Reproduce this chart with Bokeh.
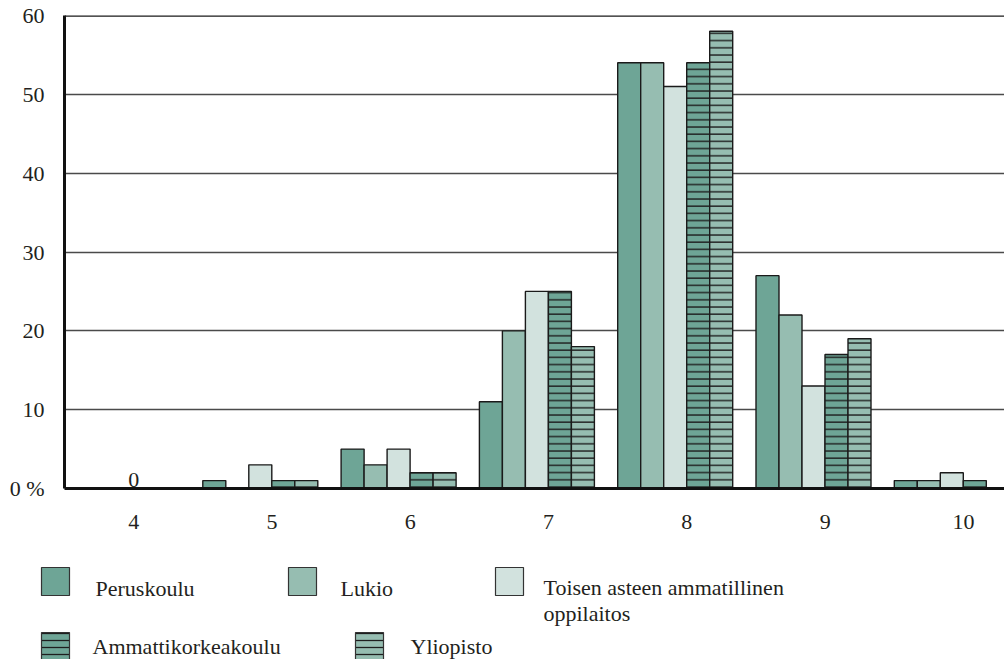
from bokeh.plotting import figure
from bokeh.models import Range1d, FixedTicker, Span, ColumnDataSource, Column
from bokeh.embed import file_html
from bokeh.resources import INLINE
from bokeh.core.properties import value

grades = ["4", "5", "6", "7", "8", "9", "10"]
series = ["Peruskoulu", "Lukio", "Toisen asteen ammatillinen oppilaitos",
          "Ammattikorkeakoulu", "Yliopisto"]
peruskoulu = [0, 1, 5, 11, 54, 27, 1]
lukio = [0, 0, 3, 20, 54, 22, 1]
toisen_aste = [0, 3, 5, 25, 51, 13, 2]
amk = [0, 1, 2, 25, 54, 17, 1]
yliopisto = [0, 1, 2, 18, 58, 19, 0]
yticks = [0, 10, 20, 30, 40, 50, 60]

values = [peruskoulu, lukio, toisen_aste, amk, yliopisto]
colors = ["#6ea596", "#96bdb1", "#d2e2de", "#6ea596", "#96bdb1"]
hatches = [None, None, None, "horizontal_line", "horizontal_line"]

FONT = "Liberation Serif"
TXT = "#231f20"

W = 1004
CH = 545
LH = 659 - CH
LEFT = 64

slot_px = 138.3
frame_w = W - LEFT
xmax = frame_w / slot_px
bw = 23.0 / slot_px

p = figure(width=W, height=CH, output_backend="svg", toolbar_location=None,
           x_range=Range1d(0, xmax), y_range=Range1d(0, 60),
           min_border_left=LEFT, min_border_right=0, min_border_top=15,
           min_border_bottom=57)
p.outline_line_color = None
p.background_fill_color = "white"

p.xgrid.visible = False
p.ygrid.ticker = FixedTicker(ticks=[10, 20, 30, 40, 50])
p.ygrid.grid_line_color = "#4a4a4a"
p.ygrid.grid_line_width = 1.3

p.add_layout(Span(location=60, dimension="width", line_color="#1a1a1a", line_width=2.5))

for j, (vals, col, h) in enumerate(zip(values, colors, hatches)):
    xs = [i + (j + 0.5) * bw for i in range(len(grades))]
    src = ColumnDataSource(dict(x=xs, top=vals))
    kw = {}
    if h:
        kw = dict(hatch_pattern=h, hatch_color="#1e1e1e", hatch_weight=1.4, hatch_scale=7.2)
    p.vbar(x="x", top="top", bottom=0, width=bw, source=src, fill_color=col,
           line_color="#1a1a1a", line_width=1.4, **kw)

# zero label for grade 4
p.text(x=[0.5], y=[0], text=["0"], text_font=value(FONT), text_font_size="22px",
       text_color=TXT, text_align="center", text_baseline="bottom", y_offset=-2)

p.xaxis.ticker = FixedTicker(ticks=[i + 0.5 for i in range(len(grades))])
p.xaxis.major_label_overrides = {i + 0.5: g for i, g in enumerate(grades)}
p.yaxis.ticker = FixedTicker(ticks=yticks)
p.yaxis.major_label_overrides = {0: "0 %"}
for ax in (p.xaxis[0], p.yaxis[0]):
    ax.axis_line_color = "#111111"
    ax.axis_line_width = 3
    ax.major_tick_line_color = None
    ax.minor_tick_line_color = None
    ax.major_label_text_font = FONT
    ax.major_label_text_font_size = "22px"
    ax.major_label_text_color = TXT
p.yaxis.major_label_standoff = 14
p.xaxis.major_label_standoff = 20

# legend figure (page-pixel coordinates)
lg = figure(width=W, height=LH, output_backend="svg", toolbar_location=None,
            x_range=Range1d(0, W), y_range=Range1d(CH + LH, CH),
            min_border=0)
lg.axis.visible = False
lg.grid.visible = False
lg.outline_line_color = None

sq_left = [41, 288, 495, 41, 355]
sq_top = [567, 567, 567, 632, 632]
txt_x = [95, 340, 543, 92, 410]
txt_y = [588, 588, 587, 646, 646]
for k in range(5):
    kw = {}
    if hatches[k]:
        kw = dict(hatch_pattern=hatches[k], hatch_color="#1e1e1e", hatch_weight=1.3, hatch_scale=7.0)
    lg.quad(left=[sq_left[k]], right=[sq_left[k] + 28], top=[sq_top[k]], bottom=[sq_top[k] + 28],
            fill_color=colors[k], line_color="#333333", line_width=1.2, **kw)
labels = ["Peruskoulu", "Lukio", "Toisen asteen ammatillinen", "Ammattikorkeakoulu", "Yliopisto"]
lg.text(x=txt_x, y=txt_y, text=labels, text_font=value(FONT), text_font_size="22px",
        text_color=TXT, text_baseline="alphabetic", text_align="left")
lg.text(x=[543], y=[613], text=["oppilaitos"], text_font=value(FONT), text_font_size="22px",
        text_color=TXT, text_baseline="alphabetic", text_align="left")

layout = Column(children=[p, Column(children=[lg], spacing=0)], spacing=0)
open("out.html", "w").write(file_html(layout, INLINE))
